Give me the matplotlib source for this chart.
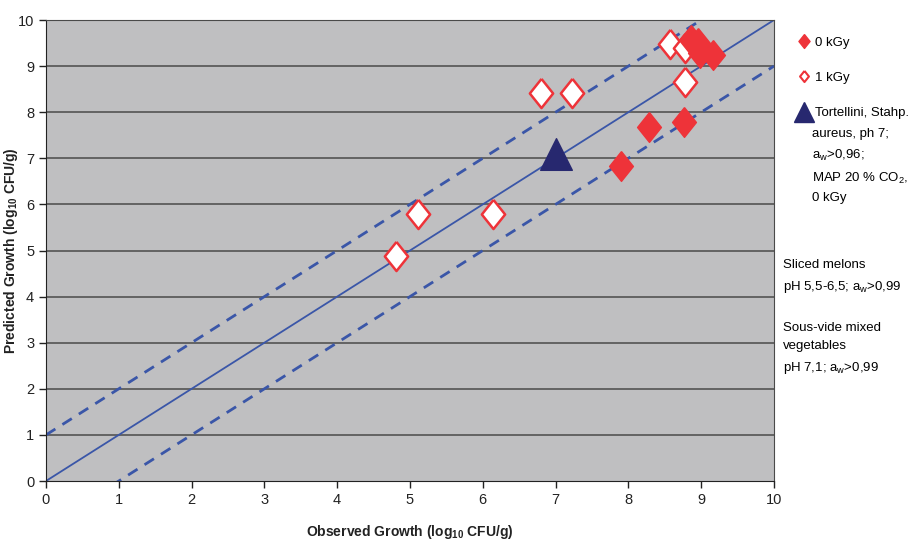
import numpy as np
import matplotlib.pyplot as plt
from matplotlib.lines import Line2D

plt.rcParams['font.family'] = ['Liberation Sans', 'DejaVu Sans']

# Observed vs predicted growth (log10 CFU/g)
obs_0kgy = [7.90, 8.28, 8.76, 8.86, 8.96, 8.98, 9.16]
pred_0kgy = [6.83, 7.68, 7.79, 9.57, 9.50, 9.28, 9.24]

obs_1kgy = [4.81, 5.11, 6.14, 6.80, 7.23, 8.57, 8.78, 8.78]
pred_1kgy = [4.88, 5.79, 5.79, 8.42, 8.42, 9.48, 9.39, 8.66]

obs_tort = [7.00]
pred_tort = [7.10]

line_x = [0, 10]
offsets = [0, 1, -1]

red = '#ee3339'
navy = '#27286f'
blue = '#3a56a8'

diamond = [(0, 1.25), (1, 0), (0, -1.25), (-1, 0), (0, 1.25)]

fig = plt.figure(figsize=(9.14, 5.45), dpi=100)
ax = fig.add_axes([0.0503, 0.1174, 0.7965, 0.8459])
ax.set_facecolor('#bfbfc1')

for y in range(1, 11):
    ax.axhline(y, color='#4a4a4a', lw=1.1, zorder=1)

x = np.array(line_x)
for off in offsets:
    if off == 0:
        ax.plot(x, x + off, color=blue, lw=1.3, zorder=2)
    else:
        ax.plot(x, x + off, color=blue, lw=2.0, ls=(0, (4, 3)), zorder=2)

ax.scatter(obs_1kgy, pred_1kgy, marker=diamond, s=440, facecolor='white',
           edgecolor=red, linewidths=1.8, zorder=3)
ax.scatter(obs_0kgy, pred_0kgy, marker=diamond, s=460, facecolor=red,
           edgecolor=red, linewidths=1, zorder=4)
ax.scatter(obs_tort, pred_tort, marker='^', s=520, color=navy, zorder=5)

ax.set_xlim(0, 10)
ax.set_ylim(0, 10)
ax.set_xticks(range(11))
ax.set_yticks(range(11))
ax.tick_params(labelsize=10.5, colors='#222222', length=5, width=1)
for s in ax.spines.values():
    s.set_color('#4a4a4a')
ax.spines['left'].set_color('#222222')
ax.spines['bottom'].set_color('#222222')

ax.set_xlabel(r'Observed Growth (log$\mathregular{_{10}}$ CFU/g)', fontsize=10,
              fontweight='bold', color='#222222')
ax.set_ylabel(r'Predicted Growth (log$\mathregular{_{10}}$ CFU/g)', fontsize=10,
              fontweight='bold', color='#222222')
ax.xaxis.set_label_coords(0.5, -0.092)
ax.yaxis.set_label_coords(-0.036, 0.5)

handles = [
    Line2D([], [], ls='none', marker=diamond, ms=10, color=red),
    Line2D([], [], ls='none', marker=diamond, ms=8, mfc='white', mec=red, mew=1.5),
    Line2D([], [], ls='none', marker='^', ms=15, color=navy),
]
labels = ['0 kGy', '1 kGy', 'Tortellini, Stahp.']
fig.legend(handles, labels, loc='upper left', bbox_to_anchor=(0.858, 0.955),
           frameon=False, fontsize=9.5, labelspacing=1.75, handletextpad=0.2,
           handlelength=1.2)

fig.text(0.888, 0.765, 'aureus, ph 7;\n$\\mathregular{a_w}$>0,96;\nMAP 20 % CO$\\mathregular{_2}$,\n0 kGy',
         fontsize=9.5, va='top', linespacing=1.7)
fig.text(0.857, 0.525, 'Sliced melons\npH 5,5-6,5; $\\mathregular{a_w}$>0,99',
         fontsize=9.5, va='top', linespacing=1.7)
fig.text(0.857, 0.41, 'Sous-vide mixed\nvegetables\npH 7,1; $\\mathregular{a_w}$>0,99',
         fontsize=9.5, va='top', linespacing=1.7)

fig.savefig('out.png', dpi=100)
